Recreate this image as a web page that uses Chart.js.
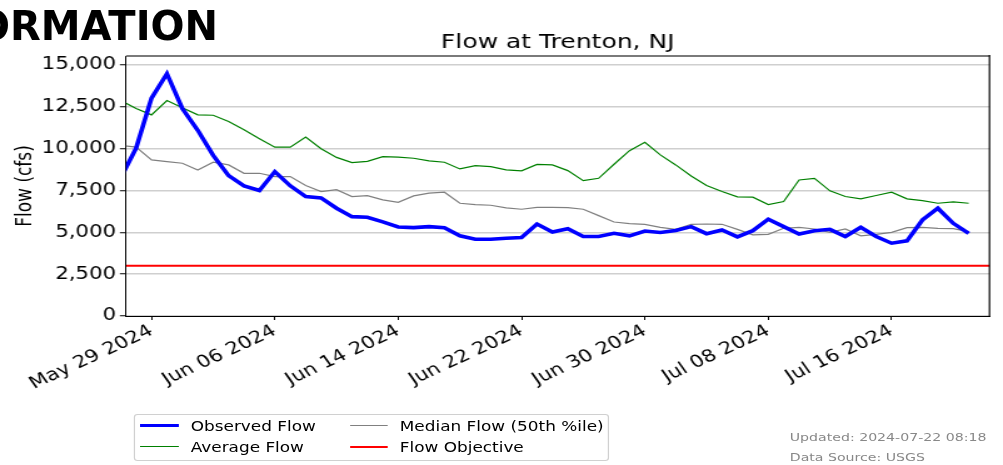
<!DOCTYPE html>
<html>
<head>
<meta charset="utf-8">
<script src="https://cdn.jsdelivr.net/npm/chart.js@4/dist/chart.umd.min.js"></script>
<style>
  body { margin: 0; width: 1003px; height: 465px; overflow: hidden; background: #fff; position: relative; font-family: 'DejaVu Sans', sans-serif; }
  #header { position: absolute; right: calc(100% - 218px); top: 6px; font-size: 40px; line-height: 40px; font-weight: bold; white-space: nowrap; color: #000; z-index: 2; }
  #stage { position: absolute; left: 0; top: 0; width: 802px; height: 465px; transform: scaleX(1.2506); transform-origin: 0 0; }
  #chart { display: block; }
  #legend { position: absolute; left: 106.7px; top: 414px; width: 380px; height: 47px; box-sizing: border-box; border: 1px solid #d0d0d0; border-radius: 3px; background: #fff; }
  .handle { position: absolute; height: 0; }
  .lbl { position: absolute; font-size: 13.5px; line-height: 16px; white-space: nowrap; color: #000; }
  .foot { position: absolute; left: 631.5px; font-size: 11.3px; line-height: 14px; color: #888; white-space: nowrap; }
</style>
</head>
<body>
<div id="header">INFORMATION</div>
<div id="stage">
  <canvas id="chart" width="802" height="465" style="width:802px;height:465px"></canvas>
  <div id="legend"></div>
  <div class="foot" style="top:431px">Updated: 2024-07-22 08:18</div>
  <div class="foot" style="top:450.5px">Data Source: USGS</div>
</div>
<script>
// Daily values starting on firstDate (one value per day)
const firstDate = '2024-05-27';
const observedFlow = [
  8250, 10030, 13020, 14480, 12400, 11100, 9600, 8390, 7780, 7500,
  8630, 7780, 7140, 7060, 6440, 5940, 5900, 5630, 5320, 5280,
  5340, 5280, 4790, 4590, 4590, 4650, 4690, 5500, 5020, 5220,
  4750, 4750, 4940, 4790, 5080, 4990, 5110, 5340, 4920, 5140,
  4730, 5100, 5780, 5340, 4900, 5100, 5180, 4750, 5300, 4750,
  4350, 4490, 5740, 6440, 5540, 4940
];
const averageFlow = [
  12880, 12400, 12020, 12880, 12450, 12020, 12000, 11620, 11130, 10600,
  10090, 10090, 10690, 10000, 9480, 9170, 9240, 9520, 9500, 9430,
  9270, 9190, 8790, 8990, 8930, 8730, 8680, 9060, 9030, 8690,
  8090, 8230, 9070, 9880, 10380, 9630, 9030, 8370, 7800, 7440,
  7120, 7100, 6660, 6840, 8130, 8230, 7480, 7140, 7000, 7200,
  7400, 7000, 6900, 6740, 6820, 6740
];
const medianFlow = [
  10200, 10090, 9330, 9230, 9130, 8730, 9190, 9030, 8530, 8530,
  8330, 8330, 7800, 7440, 7550, 7140, 7190, 6940, 6790, 7180,
  7340, 7400, 6740, 6660, 6620, 6460, 6380, 6490, 6490, 6480,
  6380, 6000, 5620, 5520, 5480, 5300, 5180, 5480, 5500, 5480,
  5180, 4850, 4880, 5240, 5300, 5200, 5000, 5200, 4790, 4880,
  5000, 5280, 5300, 5240, 5220, 5040
];
const flowObjective = 3000;
const tickDates = ['2024-05-29', '2024-06-06', '2024-06-14', '2024-06-22', '2024-06-30', '2024-07-08', '2024-07-16'];
const yTicks = [0, 2500, 5000, 7500, 10000, 12500, 15000];
// 56-day window ending at the update time (days since firstDate)
const xMin = 0.35;
const xMax = 56.35;
const yMax = 15540;

const months = ['Jan', 'Feb', 'Mar', 'Apr', 'May', 'Jun', 'Jul', 'Aug', 'Sep', 'Oct', 'Nov', 'Dec'];
const t0 = Date.parse(firstDate + 'T00:00:00Z');

function dayNum(s) {
  return (Date.parse(s + 'T00:00:00Z') - t0) / 864e5;
}

function formatDay(v) {
  const d = new Date(t0 + Math.round(v) * 864e5);
  return months[d.getUTCMonth()] + ' ' + String(d.getUTCDate()).padStart(2, '0') + ' ' + d.getUTCFullYear();
}

function toPoints(arr) {
  return arr.map((v, i) => ({ x: i, y: v }));
}

// top and right spines
const frame = {
  id: 'frame',
  afterDatasetsDraw(chart) {
    const { ctx, chartArea: a } = chart;
    ctx.save();
    ctx.strokeStyle = '#7a7a7a';
    ctx.lineWidth = 2;
    ctx.beginPath();
    ctx.moveTo(a.left, a.top);
    ctx.lineTo(a.right, a.top);
    ctx.stroke();
    ctx.strokeStyle = '#000';
    ctx.lineWidth = 1.2;
    ctx.beginPath();
    ctx.moveTo(a.right, a.top - 1);
    ctx.lineTo(a.right, a.bottom);
    ctx.stroke();
    ctx.restore();
  }
};

Chart.defaults.font.family = "'DejaVu Sans', sans-serif";
Chart.defaults.color = '#000';

new Chart(document.getElementById('chart').getContext('2d'), {
  type: 'line',
  data: {
    datasets: [
      {
        label: 'Observed Flow',
        data: toPoints(observedFlow),
        borderColor: '#0000ff',
        borderWidth: 3.6,
        pointRadius: 0,
        clip: 0,
        order: 0
      },
      {
        label: 'Flow Objective',
        data: [{ x: xMin, y: flowObjective }, { x: xMax, y: flowObjective }],
        borderColor: '#ff0000',
        borderWidth: 2,
        pointRadius: 0,
        clip: 0,
        order: 1
      },
      {
        label: 'Average Flow',
        data: toPoints(averageFlow),
        borderColor: '#008000',
        borderWidth: 1.2,
        pointRadius: 0,
        clip: 0,
        order: 2
      },
      {
        label: 'Median Flow (50th %ile)',
        data: toPoints(medianFlow),
        borderColor: '#808080',
        borderWidth: 1.2,
        pointRadius: 0,
        clip: 0,
        order: 3
      }
    ]
  },
  options: {
    responsive: false,
    animation: false,
    devicePixelRatio: 1,
    layout: { padding: { left: 0, right: 10.8, top: 0, bottom: 0 } },
    plugins: {
      legend: { display: false },
      tooltip: { enabled: false },
      title: {
        display: true,
        text: 'Flow at Trenton, NJ',
        fullSize: false,
        color: '#000',
        font: { size: 20, weight: 'normal', lineHeight: 1.1 },
        padding: { top: 32, bottom: 2 }
      }
    },
    scales: {
      x: {
        type: 'linear',
        min: xMin,
        max: xMax,
        afterBuildTicks: axis => { axis.ticks = tickDates.map(d => ({ value: dayNum(d) })); },
        afterFit: axis => { axis.height = 149; },
        grid: { drawOnChartArea: false, drawTicks: true, tickLength: 4, tickColor: '#000', tickWidth: 1 },
        border: { color: '#000', width: 1 },
        ticks: {
          autoSkip: false,
          minRotation: 30,
          maxRotation: 30,
          padding: 1,
          font: { size: 17 },
          callback: v => formatDay(v)
        }
      },
      y: {
        min: 0,
        max: yMax,
        afterBuildTicks: axis => { axis.ticks = yTicks.map(v => ({ value: v })); },
        afterFit: axis => { axis.width = 100.8; },
        grid: { color: '#cfcfcf', lineWidth: 1.5, tickLength: 5, tickColor: '#000', tickWidth: 1 },
        border: { color: '#000', width: 1 },
        title: {
          display: true,
          text: 'Flow (cfs)',
          font: { size: 17 },
          padding: { top: 10, bottom: 0 }
        },
        ticks: {
          padding: 3,
          font: { size: 17 },
          callback: v => v.toLocaleString('en-US')
        }
      }
    }
  },
  plugins: [frame]
});

// legend, two columns like the original
const legendItems = [
  { text: 'Observed Flow', color: '#0000ff', width: 3.6, col: 0, row: 0 },
  { text: 'Average Flow', color: '#008000', width: 1.3, col: 0, row: 1 },
  { text: 'Median Flow (50th %ile)', color: '#808080', width: 1.3, col: 1, row: 0 },
  { text: 'Flow Objective', color: '#ff0000', width: 2.2, col: 1, row: 1 }
];
const colX = [4.8, 172];
const rowY = [10.7, 31.7];
const legend = document.getElementById('legend');
legendItems.forEach(item => {
  const h = document.createElement('div');
  h.className = 'handle';
  h.style.left = colX[item.col] + 'px';
  h.style.width = '30.4px';
  h.style.top = (rowY[item.row] - item.width / 2) + 'px';
  h.style.borderTop = item.width + 'px solid ' + item.color;
  legend.appendChild(h);
  const t = document.createElement('div');
  t.className = 'lbl';
  t.style.left = (colX[item.col] + 40) + 'px';
  t.style.top = (rowY[item.row] - 8) + 'px';
  t.textContent = item.text;
  legend.appendChild(t);
});
</script>
</body>
</html>
